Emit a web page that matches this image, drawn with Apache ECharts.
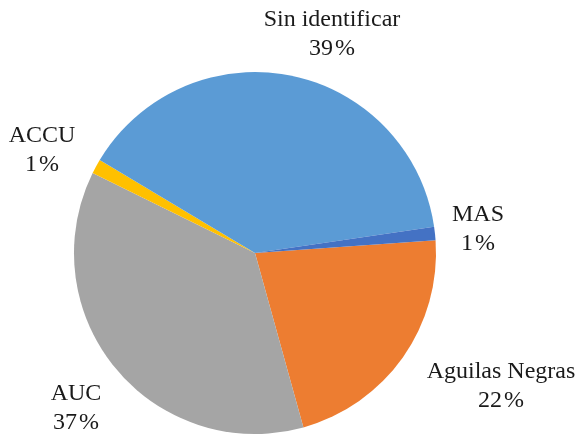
<!DOCTYPE html>
<html>
<head>
<meta charset="utf-8">
<script src="https://cdn.jsdelivr.net/npm/echarts@6/dist/echarts.min.js"></script>
<style>
  html, body { margin: 0; padding: 0; background: #fff; }
  #chart { width: 584px; height: 437px; }
</style>
</head>
<body>
<div id="chart"></div>
<script>
// slices in clockwise order, starting just above 3 o'clock
var categories = ["Aguilas Negras", "AUC", "ACCU", "Sin identificar", "MAS"];
var values = [21.8, 36.6, 1.3, 39.1, 1.2];
var colors = ["#ED7D31", "#A5A5A5", "#FFC000", "#5B9BD5", "#4472C4"];

// where each label block sits (centre of the two lines)
var labelPos = [[501, 386], [76, 408], [42, 150], [332, 34], [478, 229]];

var chart = echarts.init(document.getElementById("chart"));

chart.setOption({
  animation: false,
  color: colors,
  series: [
    {
      type: "pie",
      center: [255, 253],
      radius: 181,
      startAngle: 4,
      clockwise: true,
      percentPrecision: 0,
      label: {
        show: true,
        position: "outside",
        formatter: function (p) {
          return p.name + "\n" + Math.round(p.percent) + "\u200A%";
        },
        fontFamily: "Liberation Serif",
        fontSize: 24,
        lineHeight: 29,
        color: "#1a1a1a",
        align: "center",
        overflow: "none"
      },
      labelLine: { show: false },
      labelLayout: function (params) {
        var pos = labelPos[params.dataIndex];
        return {
          x: pos[0],
          y: pos[1],
          align: "center",
          verticalAlign: "middle"
        };
      },
      emphasis: { disabled: true },
      data: categories.map(function (name, i) {
        return { name: name, value: values[i] };
      })
    }
  ]
});
</script>
</body>
</html>
